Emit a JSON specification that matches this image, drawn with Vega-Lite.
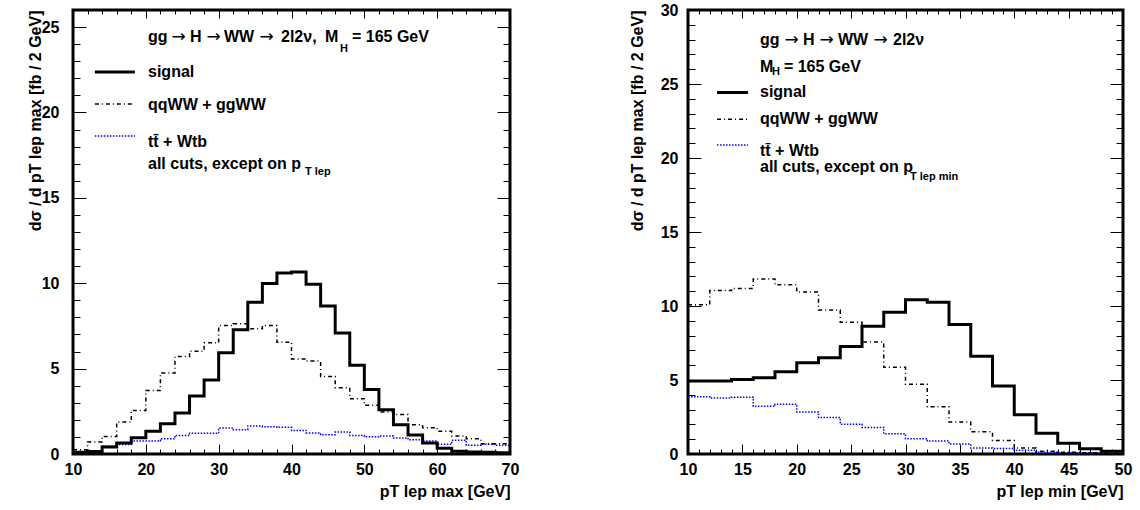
{
  "$schema": "https://vega.github.io/schema/vega-lite/v6.json",
  "background": "white",
  "padding": {"left": 25, "top": 0, "right": 5, "bottom": 5},
  "spacing": 106,
  "config": {
    "view": {"stroke": "black", "strokeWidth": 3},
    "axis": {"domain": false, "grid": false, "tickColor": "black", "tickWidth": 1, "labelFontSize": 16, "labelFontWeight": "bold", "labelFont": "Liberation Sans", "labelColor": "black", "labelOverlap": false, "labelBound": false, "labelFlush": false, "titleFontSize": 16, "titleFontWeight": "bold", "titleFont": "Liberation Sans", "titleColor": "black"}
  },
  "datasets": {
    "L": [
      {"s":"tt","x":10,"v":0.08},{"s":"tt","x":12,"v":0.15},{"s":"tt","x":14,"v":0.47},{"s":"tt","x":16,"v":0.55},{"s":"tt","x":18,"v":0.76},{"s":"tt","x":20,"v":0.76},{"s":"tt","x":22,"v":0.90},{"s":"tt","x":24,"v":1.09},{"s":"tt","x":26,"v":1.21},{"s":"tt","x":28,"v":1.21},{"s":"tt","x":30,"v":1.52},{"s":"tt","x":32,"v":1.42},{"s":"tt","x":34,"v":1.64},{"s":"tt","x":36,"v":1.60},{"s":"tt","x":38,"v":1.56},{"s":"tt","x":40,"v":1.38},{"s":"tt","x":42,"v":1.23},{"s":"tt","x":44,"v":1.13},{"s":"tt","x":46,"v":1.29},{"s":"tt","x":48,"v":1.09},{"s":"tt","x":50,"v":1.01},{"s":"tt","x":52,"v":1.05},{"s":"tt","x":54,"v":0.94},{"s":"tt","x":56,"v":0.84},{"s":"tt","x":58,"v":0.76},{"s":"tt","x":60,"v":0.57},{"s":"tt","x":62,"v":0.80},{"s":"tt","x":64,"v":0.51},{"s":"tt","x":66,"v":0.57},{"s":"tt","x":68,"v":0.51},{"s":"tt","x":70,"v":0.51},
      {"s":"ww","x":10,"v":0.25},{"s":"ww","x":12,"v":0.70},{"s":"ww","x":14,"v":1.03},{"s":"ww","x":16,"v":1.87},{"s":"ww","x":18,"v":2.55},{"s":"ww","x":20,"v":3.72},{"s":"ww","x":22,"v":4.74},{"s":"ww","x":24,"v":5.71},{"s":"ww","x":26,"v":6.02},{"s":"ww","x":28,"v":6.51},{"s":"ww","x":30,"v":7.52},{"s":"ww","x":32,"v":7.62},{"s":"ww","x":34,"v":7.33},{"s":"ww","x":36,"v":7.52},{"s":"ww","x":38,"v":6.55},{"s":"ww","x":40,"v":5.57},{"s":"ww","x":42,"v":5.44},{"s":"ww","x":44,"v":4.54},{"s":"ww","x":46,"v":3.88},{"s":"ww","x":48,"v":3.24},{"s":"ww","x":50,"v":2.85},{"s":"ww","x":52,"v":2.46},{"s":"ww","x":54,"v":2.32},{"s":"ww","x":56,"v":1.72},{"s":"ww","x":58,"v":1.54},{"s":"ww","x":60,"v":1.33},{"s":"ww","x":62,"v":1.05},{"s":"ww","x":64,"v":0.90},{"s":"ww","x":66,"v":0.60},{"s":"ww","x":68,"v":0.60},{"s":"ww","x":70,"v":0.60},
      {"s":"sig","x":10,"v":0.10},{"s":"sig","x":12,"v":0.15},{"s":"sig","x":14,"v":0.41},{"s":"sig","x":16,"v":0.64},{"s":"sig","x":18,"v":0.95},{"s":"sig","x":20,"v":1.33},{"s":"sig","x":22,"v":1.77},{"s":"sig","x":24,"v":2.40},{"s":"sig","x":26,"v":3.40},{"s":"sig","x":28,"v":4.33},{"s":"sig","x":30,"v":5.93},{"s":"sig","x":32,"v":7.27},{"s":"sig","x":34,"v":8.89},{"s":"sig","x":36,"v":9.98},{"s":"sig","x":38,"v":10.60},{"s":"sig","x":40,"v":10.66},{"s":"sig","x":42,"v":9.94},{"s":"sig","x":44,"v":8.67},{"s":"sig","x":46,"v":7.08},{"s":"sig","x":48,"v":5.19},{"s":"sig","x":50,"v":3.78},{"s":"sig","x":52,"v":2.59},{"s":"sig","x":54,"v":1.71},{"s":"sig","x":56,"v":1.11},{"s":"sig","x":58,"v":0.64},{"s":"sig","x":60,"v":0.33},{"s":"sig","x":62,"v":0.16},{"s":"sig","x":64,"v":0.12},{"s":"sig","x":66,"v":0.10},{"s":"sig","x":68,"v":0.08},{"s":"sig","x":70,"v":0.08}
    ],
    "R": [
      {"s":"tt","x":10,"v":3.87},{"s":"tt","x":12,"v":3.78},{"s":"tt","x":14,"v":3.83},{"s":"tt","x":16,"v":3.22},{"s":"tt","x":18,"v":3.36},{"s":"tt","x":20,"v":2.84},{"s":"tt","x":22,"v":2.46},{"s":"tt","x":24,"v":2.01},{"s":"tt","x":26,"v":1.79},{"s":"tt","x":28,"v":1.36},{"s":"tt","x":30,"v":1.03},{"s":"tt","x":32,"v":0.87},{"s":"tt","x":34,"v":0.67},{"s":"tt","x":36,"v":0.40},{"s":"tt","x":38,"v":0.38},{"s":"tt","x":40,"v":0.25},{"s":"tt","x":42,"v":0.11},{"s":"tt","x":44,"v":0.08},{"s":"tt","x":46,"v":0.06},{"s":"tt","x":48,"v":0.05},{"s":"tt","x":50,"v":0.05},
      {"s":"ww","x":10,"v":10.09},{"s":"ww","x":12,"v":11.05},{"s":"ww","x":14,"v":11.19},{"s":"ww","x":16,"v":11.83},{"s":"ww","x":18,"v":11.43},{"s":"ww","x":20,"v":10.94},{"s":"ww","x":22,"v":9.73},{"s":"ww","x":24,"v":8.90},{"s":"ww","x":26,"v":7.56},{"s":"ww","x":28,"v":5.86},{"s":"ww","x":30,"v":4.72},{"s":"ww","x":32,"v":3.20},{"s":"ww","x":34,"v":2.17},{"s":"ww","x":36,"v":1.50},{"s":"ww","x":38,"v":0.92},{"s":"ww","x":40,"v":0.40},{"s":"ww","x":42,"v":0.18},{"s":"ww","x":44,"v":0.12},{"s":"ww","x":46,"v":0.08},{"s":"ww","x":48,"v":0.05},{"s":"ww","x":50,"v":0.05},
      {"s":"sig","x":10,"v":4.94},{"s":"sig","x":12,"v":4.94},{"s":"sig","x":14,"v":5.03},{"s":"sig","x":16,"v":5.15},{"s":"sig","x":18,"v":5.55},{"s":"sig","x":20,"v":6.17},{"s":"sig","x":22,"v":6.51},{"s":"sig","x":24,"v":7.27},{"s":"sig","x":26,"v":8.63},{"s":"sig","x":28,"v":9.57},{"s":"sig","x":30,"v":10.43},{"s":"sig","x":32,"v":10.25},{"s":"sig","x":34,"v":8.75},{"s":"sig","x":36,"v":6.60},{"s":"sig","x":38,"v":4.59},{"s":"sig","x":40,"v":2.66},{"s":"sig","x":42,"v":1.41},{"s":"sig","x":44,"v":0.72},{"s":"sig","x":46,"v":0.36},{"s":"sig","x":48,"v":0.18},{"s":"sig","x":50,"v":0.18}
    ],
    "LL": [
      {"s":"sig","x":13.0,"x2":18.5,"y":22.37},
      {"s":"ww","x":13.0,"x2":18.5,"y":20.49},
      {"s":"tt","x":13.0,"x2":18.5,"y":18.62}
    ],
    "RL": [
      {"s":"sig","x":12.67,"x2":15.52,"y":24.43},
      {"s":"ww","x":12.67,"x2":15.52,"y":22.62},
      {"s":"tt","x":12.67,"x2":15.52,"y":20.87}
    ],
    "LA": [
      {"t":"gg","x":20.3,"y":24.4},
      {"t":"H","x":26.06,"y":24.4},
      {"t":"WW","x":30.73,"y":24.4},
      {"t":"2l2ν,","x":38.56,"y":24.4},
      {"t":"M","x":44.6,"y":24.4},
      {"t":"= 165 GeV","x":48.3,"y":24.4},
      {"t":"signal","x":20.3,"y":22.37},
      {"t":"qqWW + ggWW","x":20.3,"y":20.43},
      {"t":"tt̄ + Wtb","x":20.3,"y":18.27},
      {"t":"all cuts, except on p","x":20.3,"y":16.98}
    ],
    "LArr": [
      {"t":"→","x":23.52,"y":24.4},
      {"t":"→","x":28.32,"y":24.4},
      {"t":"→","x":35.6,"y":24.4}
    ],
    "LS": [
      {"t":"H","x":46.66,"y":23.71},
      {"t":"T lep","x":41.85,"y":16.51}
    ],
    "RA": [
      {"t":"gg","x":16.62,"y":27.99},
      {"t":"H","x":20.57,"y":27.99},
      {"t":"WW","x":23.79,"y":27.99},
      {"t":"2l2ν","x":28.85,"y":27.99},
      {"t":"M","x":16.62,"y":26.17},
      {"t":"= 165 GeV","x":18.82,"y":26.17},
      {"t":"signal","x":16.62,"y":24.43},
      {"t":"qqWW + ggWW","x":16.62,"y":22.62},
      {"t":"tt̄ + Wtb","x":16.62,"y":20.47},
      {"t":"all cuts, except on p","x":16.62,"y":19.40}
    ],
    "RArr": [
      {"t":"→","x":18.88,"y":27.99},
      {"t":"→","x":22.09,"y":27.99},
      {"t":"→","x":27.05,"y":27.99}
    ],
    "RS": [
      {"t":"H","x":17.72,"y":25.84},
      {"t":"T lep min","x":30.41,"y":18.72}
    ]
  },
  "hconcat": [
    {
      "width": 437,
      "height": 444,
      "resolve": {"axis": {"x": "independent", "y": "independent"}},
      "layer": [
        {
          "data": {"name": "L"},
          "mark": {"type": "line", "interpolate": "step-after", "clip": true},
          "encoding": {
            "x": {"field": "x", "type": "quantitative", "scale": {"domain": [10, 70], "nice": false, "zero": false},
              "axis": {"orient": "bottom", "values": [10,12,14,16,18,20,22,24,26,28,30,32,34,36,38,40,42,44,46,48,50,52,54,56,58,60,62,64,66,68,70],
                "labelExpr": "datum.value % 10 === 0 ? datum.label : ''",
                "tickSize": {"condition": {"test": "datum.value % 10 === 0", "value": -10}, "value": -5},
                "labelPadding": 17, "title": "pT lep max [GeV]", "titleAnchor": "end", "titlePadding": 1}},
            "y": {"field": "v", "type": "quantitative", "scale": {"domain": [0, 26], "nice": false, "zero": false},
              "axis": {"orient": "left", "values": [0,1,2,3,4,5,6,7,8,9,10,11,12,13,14,15,16,17,18,19,20,21,22,23,24,25,26],
                "labelExpr": "datum.value % 5 === 0 ? datum.label : ''",
                "tickSize": {"condition": {"test": "datum.value % 5 === 0", "value": -13}, "value": -7},
                "labelPadding": 27, "title": "dσ / d pT lep max [fb / 2 GeV]", "titleAnchor": "end", "titlePadding": 0, "minExtent": 30, "maxExtent": 30}},
            "color": {"field": "s", "type": "nominal", "scale": {"domain": ["sig", "ww", "tt"], "range": ["#000000", "#000000", "#0000ff"]}, "legend": null},
            "strokeDash": {"field": "s", "type": "nominal", "scale": {"domain": ["sig", "ww", "tt"], "range": [[1, 0], [4, 3, 1, 3], [1.5, 1.5]]}, "legend": null},
            "strokeWidth": {"condition": {"test": "datum.s === 'sig'", "value": 3}, "value": 1.5}
          }
        },
        {
          "data": {"name": "LL"},
          "mark": {"type": "rule"},
          "encoding": {
            "x": {"field": "x", "type": "quantitative", "scale": {"domain": [10, 70], "nice": false, "zero": false}, "axis": null},
            "x2": {"field": "x2"},
            "y": {"field": "y", "type": "quantitative", "scale": {"domain": [0, 26], "nice": false, "zero": false}, "axis": null},
            "color": {"field": "s", "type": "nominal", "scale": {"domain": ["sig", "ww", "tt"], "range": ["#000000", "#000000", "#0000ff"]}, "legend": null},
            "strokeDash": {"field": "s", "type": "nominal", "scale": {"domain": ["sig", "ww", "tt"], "range": [[1, 0], [4, 3, 1, 3], [1.5, 1.5]]}, "legend": null},
            "strokeWidth": {"condition": {"test": "datum.s === 'sig'", "value": 3}, "value": 1.5}
          }
        },
        {
          "data": {"name": "LA"},
          "mark": {"type": "text", "align": "left", "baseline": "middle", "fontSize": 16, "fontWeight": "bold", "font": "Liberation Sans", "color": "black"},
          "encoding": {
            "x": {"field": "x", "type": "quantitative", "scale": {"domain": [10, 70], "nice": false, "zero": false},
              "axis": {"orient": "top", "values": [10,12,14,16,18,20,22,24,26,28,30,32,34,36,38,40,42,44,46,48,50,52,54,56,58,60,62,64,66,68,70],
                "labels": false, "title": null, "minExtent": 0, "maxExtent": 0,
                "tickSize": {"condition": {"test": "datum.value % 10 === 0", "value": -8}, "value": -4}}},
            "y": {"field": "y", "type": "quantitative", "scale": {"domain": [0, 26], "nice": false, "zero": false},
              "axis": {"orient": "right", "values": [0,1,2,3,4,5,6,7,8,9,10,11,12,13,14,15,16,17,18,19,20,21,22,23,24,25,26],
                "labels": false, "title": null, "minExtent": 0, "maxExtent": 0,
                "tickSize": {"condition": {"test": "datum.value % 5 === 0", "value": -13}, "value": -7}}},
            "text": {"field": "t"}
          }
        },
        {
          "data": {"name": "LArr"},
          "mark": {"type": "text", "align": "left", "baseline": "middle", "fontSize": 17, "font": "DejaVu Sans", "color": "black"},
          "encoding": {
            "x": {"field": "x", "type": "quantitative", "scale": {"domain": [10, 70], "nice": false, "zero": false}, "axis": null},
            "y": {"field": "y", "type": "quantitative", "scale": {"domain": [0, 26], "nice": false, "zero": false}, "axis": null},
            "text": {"field": "t"}
          }
        },
        {
          "data": {"name": "LS"},
          "mark": {"type": "text", "align": "left", "baseline": "middle", "fontSize": 11, "fontWeight": "bold", "font": "Liberation Sans", "color": "black"},
          "encoding": {
            "x": {"field": "x", "type": "quantitative", "scale": {"domain": [10, 70], "nice": false, "zero": false}, "axis": null},
            "y": {"field": "y", "type": "quantitative", "scale": {"domain": [0, 26], "nice": false, "zero": false}, "axis": null},
            "text": {"field": "t"}
          }
        }
      ]
    },
    {
      "width": 435,
      "height": 444,
      "resolve": {"axis": {"x": "independent", "y": "independent"}},
      "layer": [
        {
          "data": {"name": "R"},
          "mark": {"type": "line", "interpolate": "step-after", "clip": true},
          "encoding": {
            "x": {"field": "x", "type": "quantitative", "scale": {"domain": [10, 50], "nice": false, "zero": false},
              "axis": {"orient": "bottom", "values": [10,11,12,13,14,15,16,17,18,19,20,21,22,23,24,25,26,27,28,29,30,31,32,33,34,35,36,37,38,39,40,41,42,43,44,45,46,47,48,49,50],
                "labelExpr": "datum.value % 5 === 0 ? datum.label : ''",
                "tickSize": {"condition": {"test": "datum.value % 5 === 0", "value": -10}, "value": -5},
                "labelPadding": 17, "title": "pT lep min [GeV]", "titleAnchor": "end", "titlePadding": 1}},
            "y": {"field": "v", "type": "quantitative", "scale": {"domain": [0, 30], "nice": false, "zero": false},
              "axis": {"orient": "left", "values": [0,1,2,3,4,5,6,7,8,9,10,11,12,13,14,15,16,17,18,19,20,21,22,23,24,25,26,27,28,29,30],
                "labelExpr": "datum.value % 5 === 0 ? datum.label : ''",
                "tickSize": {"condition": {"test": "datum.value % 5 === 0", "value": -13}, "value": -7},
                "labelPadding": 23, "title": "dσ / d pT lep max [fb / 2 GeV]", "titleAnchor": "end", "titlePadding": 0, "minExtent": 43, "maxExtent": 43}},
            "color": {"field": "s", "type": "nominal", "scale": {"domain": ["sig", "ww", "tt"], "range": ["#000000", "#000000", "#0000ff"]}, "legend": null},
            "strokeDash": {"field": "s", "type": "nominal", "scale": {"domain": ["sig", "ww", "tt"], "range": [[1, 0], [4, 3, 1, 3], [1.5, 1.5]]}, "legend": null},
            "strokeWidth": {"condition": {"test": "datum.s === 'sig'", "value": 3}, "value": 1.5}
          }
        },
        {
          "data": {"name": "RL"},
          "mark": {"type": "rule"},
          "encoding": {
            "x": {"field": "x", "type": "quantitative", "scale": {"domain": [10, 50], "nice": false, "zero": false}, "axis": null},
            "x2": {"field": "x2"},
            "y": {"field": "y", "type": "quantitative", "scale": {"domain": [0, 30], "nice": false, "zero": false}, "axis": null},
            "color": {"field": "s", "type": "nominal", "scale": {"domain": ["sig", "ww", "tt"], "range": ["#000000", "#000000", "#0000ff"]}, "legend": null},
            "strokeDash": {"field": "s", "type": "nominal", "scale": {"domain": ["sig", "ww", "tt"], "range": [[1, 0], [4, 3, 1, 3], [1.5, 1.5]]}, "legend": null},
            "strokeWidth": {"condition": {"test": "datum.s === 'sig'", "value": 3}, "value": 1.5}
          }
        },
        {
          "data": {"name": "RA"},
          "mark": {"type": "text", "align": "left", "baseline": "middle", "fontSize": 16, "fontWeight": "bold", "font": "Liberation Sans", "color": "black"},
          "encoding": {
            "x": {"field": "x", "type": "quantitative", "scale": {"domain": [10, 50], "nice": false, "zero": false},
              "axis": {"orient": "top", "values": [10,11,12,13,14,15,16,17,18,19,20,21,22,23,24,25,26,27,28,29,30,31,32,33,34,35,36,37,38,39,40,41,42,43,44,45,46,47,48,49,50],
                "labels": false, "title": null, "minExtent": 0, "maxExtent": 0,
                "tickSize": {"condition": {"test": "datum.value % 5 === 0", "value": -8}, "value": -4}}},
            "y": {"field": "y", "type": "quantitative", "scale": {"domain": [0, 30], "nice": false, "zero": false},
              "axis": {"orient": "right", "values": [0,1,2,3,4,5,6,7,8,9,10,11,12,13,14,15,16,17,18,19,20,21,22,23,24,25,26,27,28,29,30],
                "labels": false, "title": null, "minExtent": 0, "maxExtent": 0,
                "tickSize": {"condition": {"test": "datum.value % 5 === 0", "value": -13}, "value": -7}}},
            "text": {"field": "t"}
          }
        },
        {
          "data": {"name": "RArr"},
          "mark": {"type": "text", "align": "left", "baseline": "middle", "fontSize": 17, "font": "DejaVu Sans", "color": "black"},
          "encoding": {
            "x": {"field": "x", "type": "quantitative", "scale": {"domain": [10, 50], "nice": false, "zero": false}, "axis": null},
            "y": {"field": "y", "type": "quantitative", "scale": {"domain": [0, 30], "nice": false, "zero": false}, "axis": null},
            "text": {"field": "t"}
          }
        },
        {
          "data": {"name": "RS"},
          "mark": {"type": "text", "align": "left", "baseline": "middle", "fontSize": 11, "fontWeight": "bold", "font": "Liberation Sans", "color": "black"},
          "encoding": {
            "x": {"field": "x", "type": "quantitative", "scale": {"domain": [10, 50], "nice": false, "zero": false}, "axis": null},
            "y": {"field": "y", "type": "quantitative", "scale": {"domain": [0, 30], "nice": false, "zero": false}, "axis": null},
            "text": {"field": "t"}
          }
        }
      ]
    }
  ]
}
